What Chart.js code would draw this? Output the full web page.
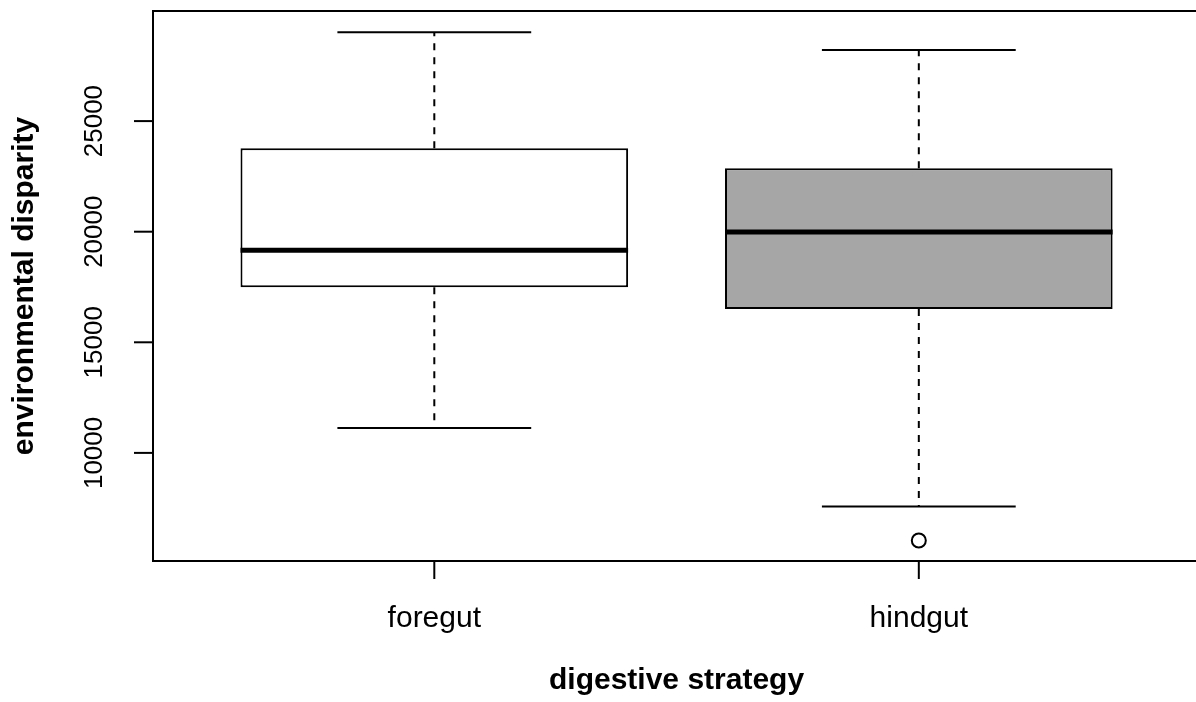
<!DOCTYPE html>
<html>
<head>
<meta charset="utf-8">
<title>environmental disparity by digestive strategy</title>
<script src="https://cdn.jsdelivr.net/npm/chart.js@4.4.1/dist/chart.umd.min.js"></script>
<style>
    html, body { margin: 0; padding: 0; background: #ffffff; overflow: hidden; }
    #myChart { display: block; }
</style>
</head>
<body>
<canvas id="myChart" width="1196" height="702"></canvas>
<script>
// box plot summary
let categories = ['foregut', 'hindgut'];
let lowerWhisker = [11126, 7580];
let q1 = [17486, 16505];
let median = [19159, 19986];
let q3 = [23770, 22866];
let upperWhisker = [29014, 28214];
let outliers = [[], [6040]];
let boxColors = ['#ffffff', '#a6a6a6'];
let yTicks = [10000, 15000, 20000, 25000];

let fontFamily = '"Liberation Sans", Arial, Helvetica, sans-serif';

// box as floating bar
let boxData = categories.map(function(c, i) {
    return { x: i + 1, y: [q1[i], q3[i]] };
});

// outlier points
let outlierData = [];
outliers.forEach(function(list, i) {
    list.forEach(function(v) {
        outlierData.push({ x: i + 1, y: v });
    });
});

// frame, axes, whiskers and medians (drawn with the chart scales)
let boxPlotPlugin = {
    id: 'boxPlotPlugin',
    beforeDatasetsDraw: function(chart) {
        let ctx = chart.ctx;
        let xs = chart.scales.x;
        let ys = chart.scales.y;
        let capHalf = 0.2;

        ctx.save();
        ctx.strokeStyle = '#000000';
        ctx.lineWidth = 2;

        for (let i = 0; i < categories.length; i++) {
            let cx = xs.getPixelForValue(i + 1);
            let left = xs.getPixelForValue(i + 1 - capHalf);
            let right = xs.getPixelForValue(i + 1 + capHalf);

            // dashed whisker lines
            ctx.setLineDash([7, 7]);
            ctx.beginPath();
            ctx.moveTo(cx, ys.getPixelForValue(q3[i]));
            ctx.lineTo(cx, ys.getPixelForValue(upperWhisker[i]));
            ctx.moveTo(cx, ys.getPixelForValue(q1[i]));
            ctx.lineTo(cx, ys.getPixelForValue(lowerWhisker[i]));
            ctx.stroke();

            // caps
            ctx.setLineDash([]);
            ctx.beginPath();
            ctx.moveTo(left, ys.getPixelForValue(upperWhisker[i]));
            ctx.lineTo(right, ys.getPixelForValue(upperWhisker[i]));
            ctx.moveTo(left, ys.getPixelForValue(lowerWhisker[i]));
            ctx.lineTo(right, ys.getPixelForValue(lowerWhisker[i]));
            ctx.stroke();
        }
        ctx.restore();
    },
    afterDatasetsDraw: function(chart) {
        let ctx = chart.ctx;
        let xs = chart.scales.x;
        let ys = chart.scales.y;
        let area = chart.chartArea;

        ctx.save();
        ctx.strokeStyle = '#000000';

        // medians
        ctx.lineWidth = 5;
        for (let i = 0; i < categories.length; i++) {
            let y = ys.getPixelForValue(median[i]);
            ctx.beginPath();
            ctx.moveTo(xs.getPixelForValue(i + 0.6), y);
            ctx.lineTo(xs.getPixelForValue(i + 1.4), y);
            ctx.stroke();
        }

        // plot frame (right side is cut off by the picture edge)
        ctx.lineWidth = 2;
        ctx.beginPath();
        ctx.moveTo(area.right + 5, area.top);
        ctx.lineTo(area.left, area.top);
        ctx.lineTo(area.left, area.bottom);
        ctx.lineTo(area.right + 5, area.bottom);
        ctx.stroke();

        // y ticks and rotated labels
        ctx.fillStyle = '#000000';
        ctx.font = '26px ' + fontFamily;
        ctx.textAlign = 'center';
        ctx.textBaseline = 'alphabetic';
        yTicks.forEach(function(v) {
            let y = ys.getPixelForValue(v);
            ctx.beginPath();
            ctx.moveTo(area.left - 19, y);
            ctx.lineTo(area.left, y);
            ctx.stroke();
            ctx.save();
            ctx.translate(area.left - 51, y);
            ctx.rotate(-Math.PI / 2);
            ctx.fillText(String(v), 0, 0);
            ctx.restore();
        });

        // x ticks and labels
        ctx.font = '30px ' + fontFamily;
        categories.forEach(function(c, i) {
            let x = xs.getPixelForValue(i + 1);
            ctx.beginPath();
            ctx.moveTo(x, area.bottom);
            ctx.lineTo(x, area.bottom + 18);
            ctx.stroke();
            ctx.fillText(c, x, area.bottom + 66);
        });

        // axis titles
        ctx.font = 'bold 30px ' + fontFamily;
        ctx.fillText('digestive strategy', xs.getPixelForValue(1.5), area.bottom + 128);
        ctx.save();
        ctx.translate(33, (area.top + area.bottom) / 2);
        ctx.rotate(-Math.PI / 2);
        ctx.fillText('environmental disparity', 0, 0);
        ctx.restore();

        ctx.restore();
    }
};

let ctx = document.getElementById('myChart').getContext('2d');
let myChart = new Chart(ctx, {
    type: 'bar',
    data: {
        datasets: [{
            label: 'box',
            data: boxData,
            backgroundColor: boxColors,
            borderColor: '#000000',
            borderWidth: 2,
            borderSkipped: false,
            categoryPercentage: 0.8,
            barPercentage: 1.0
        }, {
            type: 'scatter',
            label: 'outliers',
            data: outlierData,
            pointRadius: 7,
            pointBackgroundColor: '#ffffff',
            pointBorderColor: '#000000',
            pointBorderWidth: 2
        }]
    },
    options: {
        responsive: false,
        devicePixelRatio: 1,
        animation: false,
        layout: {
            autoPadding: false,
            padding: { left: 153, top: 11, right: 0, bottom: 141 }
        },
        plugins: {
            legend: { display: false },
            tooltip: { enabled: false }
        },
        scales: {
            x: {
                type: 'linear',
                display: false,
                offset: false,
                grid: { offset: false },
                min: 0.4194,
                max: 2.5721,
                afterBuildTicks: function(scale) {
                    scale.ticks = categories.map(function(c, i) { return { value: i + 1 }; });
                }
            },
            y: {
                type: 'linear',
                display: false,
                min: 5113,
                max: 29977
            }
        }
    },
    plugins: [boxPlotPlugin]
});
</script>
</body>
</html>
